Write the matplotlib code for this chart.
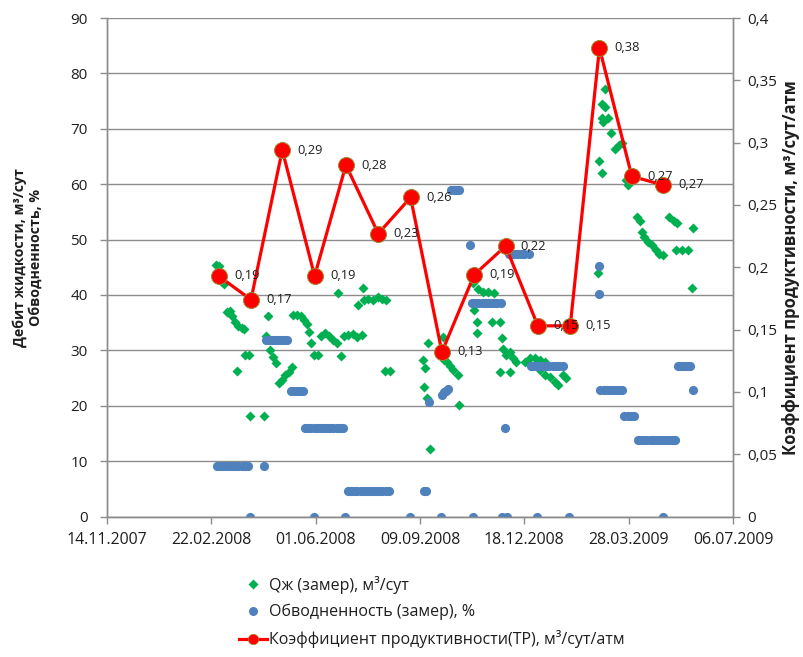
import matplotlib
matplotlib.use('Agg')
import matplotlib.pyplot as plt
from matplotlib.lines import Line2D
from matplotlib.ticker import FuncFormatter, MultipleLocator
import pandas as pd

plt.rcParams['font.family'] = ['Open Sans', 'DejaVu Sans']

START = pd.Timestamp('2007-11-14')

# Qж (замер): days since START and value, m3/сут
q_days = [104, 107, 110, 112, 115, 118, 120, 123, 126, 129, 131, 125, 132, 136, 137, 150,
          154, 152, 156, 159, 162, 165, 168, 171, 174, 177, 178, 182, 186, 189, 192, 194,
          196, 198, 202, 205, 209, 213, 217, 220, 221, 224, 227, 231, 236, 240, 244, 245,
          241, 246, 250, 255, 260, 264, 267, 266, 271, 303, 305, 308, 304, 307, 310, 322,
          323, 326, 329, 332, 336, 337, 351, 356, 360, 365, 371, 352, 355, 355, 369, 377,
          379, 380, 382, 386, 389, 392, 377, 386, 401, 405, 410, 415, 420, 415, 420, 425,
          429, 432, 437, 440, 471, 472, 474, 474, 474, 475, 477, 477, 480, 483, 487, 491,
          494, 497, 499, 508, 511, 513, 515, 519, 522, 526, 529, 533, 539, 543, 546, 545,
          551, 557, 562, 561]
q_vals = [45.4, 45.2, 42.4, 42.0, 37.0, 37.1, 36.2, 35.1, 34.4, 34.0, 33.9, 26.2, 29.2, 29.2, 18.2, 18.2,
          36.2, 32.6, 30.1, 28.8, 27.7, 24.1, 24.7, 25.6, 26.1, 27.0, 36.4, 36.4, 36.2, 35.5, 34.8, 33.3,
          31.3, 29.2, 29.2, 32.6, 33.2, 32.6, 31.9, 31.3, 40.4, 29.0, 32.6, 32.8, 33.0, 32.4, 32.8, 41.3,
          38.2, 39.1, 39.3, 39.0, 39.7, 39.3, 39.1, 26.3, 26.3, 28.3, 26.8, 31.3, 23.3, 21.4, 12.1, 32.4,
          28.3, 27.9, 27.2, 26.5, 25.6, 20.1, 42.2, 41.0, 40.5, 40.5, 40.3, 37.3, 35.1, 33.2, 35.1, 35.1,
          32.2, 30.2, 29.2, 29.7, 28.6, 27.9, 26.1, 26.1, 27.9, 28.6, 28.6, 28.3, 27.9, 26.5, 25.6, 25.2,
          24.3, 23.8, 25.6, 25.0, 44.0, 64.2, 62.1, 74.5, 72.0, 71.2, 77.2, 74.0, 72.0, 69.2, 66.4, 67.0,
          67.5, 60.8, 59.9, 54.1, 53.4, 51.4, 50.5, 49.6, 49.0, 48.1, 47.4, 47.2, 54.1, 53.4, 53.0, 48.1,
          48.1, 48.1, 52.1, 41.3]

# Обводненность (замер): days since START and value, %
w_days = [105, 108, 111, 114, 117, 120, 123, 126, 129, 132, 135, 150, 137,
          152, 155, 158, 161, 164, 167, 170, 173,
          176, 179, 182, 185, 188,
          190, 193, 196, 199, 202, 205, 208, 211, 214, 217, 220, 223, 226,
          198, 228,
          231, 234, 237, 240, 243, 246, 249, 252, 255, 258, 261, 264, 267, 270,
          304, 306, 290, 309,
          321, 323, 325, 327,
          330, 333, 335, 337, 320, 348,
          350, 353, 356, 359, 362, 365, 368, 371, 374, 378, 351,
          385, 388, 391, 394, 397, 400, 404, 381, 379, 383,
          406, 409, 412, 415, 418, 421, 424, 427, 430, 433, 437, 412, 443,
          472, 472,
          473, 476, 479, 482, 485, 488, 491, 494,
          496, 499, 502, 505,
          509, 512, 515, 518, 521, 524, 527, 530, 533, 536, 539, 542, 544, 533,
          547, 550, 553, 556, 559, 562]
w_vals = [9.1, 9.1, 9.1, 9.1, 9.1, 9.1, 9.1, 9.1, 9.1, 9.1, 9.1, 9.1, 0.0,
          31.8, 31.8, 31.8, 31.8, 31.8, 31.8, 31.8, 31.8,
          22.7, 22.7, 22.7, 22.7, 22.7,
          16.0, 16.0, 16.0, 16.0, 16.0, 16.0, 16.0, 16.0, 16.0, 16.0, 16.0, 16.0, 16.0,
          0.0, 0.0,
          4.66, 4.66, 4.66, 4.66, 4.66, 4.66, 4.66, 4.66, 4.66, 4.66, 4.66, 4.66, 4.66, 4.66,
          4.66, 4.66, 0.0, 20.7,
          22.0, 22.4, 22.7, 23.0,
          58.9, 58.9, 58.9, 58.9, 0.0, 49.0,
          38.5, 38.5, 38.5, 38.5, 38.5, 38.5, 38.5, 38.5, 38.5, 38.5, 0.0,
          47.4, 47.4, 47.4, 47.4, 47.4, 47.4, 47.4, 16.0, 0.0, 0.0,
          27.2, 27.2, 27.2, 27.2, 27.2, 27.2, 27.2, 27.2, 27.2, 27.2, 27.2, 0.0, 0.0,
          45.2, 40.1,
          22.85, 22.85, 22.85, 22.85, 22.85, 22.85, 22.85, 22.85,
          18.2, 18.2, 18.2, 18.2,
          13.8, 13.8, 13.8, 13.8, 13.8, 13.8, 13.8, 13.8, 13.8, 13.8, 13.8, 13.8, 13.8, 0.0,
          27.2, 27.2, 27.2, 27.2, 27.2, 22.85]

# Коэффициент продуктивности (ТР), м3/сут/атм
kp_dates = ['2008-02-29', '2008-03-31', '2008-04-30', '2008-05-31', '2008-06-30',
            '2008-07-31', '2008-08-31', '2008-09-30', '2008-10-31', '2008-11-30',
            '2008-12-31', '2009-01-31', '2009-02-28', '2009-03-31', '2009-04-30']
kp_vals = [0.193, 0.174, 0.294, 0.193, 0.282, 0.227, 0.256, 0.132, 0.194, 0.217,
           0.153, 0.153, 0.376, 0.273, 0.266]

x_tick_dates = ['2007-11-14', '2008-02-22', '2008-06-01', '2008-09-09',
                '2008-12-18', '2009-03-28', '2009-07-06']

q_x = [START + pd.Timedelta(days=d) for d in q_days]
w_x = [START + pd.Timedelta(days=d) for d in w_days]
kp_x = pd.to_datetime(kp_dates)
xt = pd.to_datetime(x_tick_dates)

GRID = '#8c8c8c'
TXT = '#1e1e1e'
GREEN = '#00B050'
BLUE = '#4F81BD'
RED = '#FF0000'

fig = plt.figure(figsize=(8.04, 6.57), dpi=100)
ax = fig.add_axes([107 / 804, 1 - 516.5 / 657, 626 / 804, 498.5 / 657])
ax2 = ax.twinx()

ax.plot(q_x, q_vals, linestyle='none', marker='D', ms=5.6, color=GREEN, mec='none', zorder=3)
ax.plot(w_x, w_vals, linestyle='none', marker='o', ms=6.6, color=BLUE, mec='none', zorder=4)
ax2.plot(kp_x, kp_vals, '-', color=RED, lw=2.3, marker='o', ms=11.5, mfc=RED,
         mec='#9C8B2D', mew=0.7, zorder=5)
for d, v in zip(kp_x, kp_vals):
    ax2.annotate(f'{v:.2f}'.replace('.', ','), (d, v), xytext=(11, 0),
                 textcoords='offset points', va='center', ha='left',
                 fontsize=9.3, color=TXT, zorder=6)

ax.set_xlim(xt[0], xt[-1])
ax.set_xticks(xt)
ax.set_xticklabels([d.strftime('%d.%m.%Y') for d in xt])
ax.set_ylim(0, 90)
ax.yaxis.set_major_locator(MultipleLocator(10))
ax2.set_ylim(0, 0.4)
ax2.yaxis.set_major_locator(MultipleLocator(0.05))
ax2.yaxis.set_major_formatter(FuncFormatter(
    lambda v, p: '0' if abs(v) < 1e-9 else f'{v:.2f}'.rstrip('0').replace('.', ',')))

ax.yaxis.grid(True, color=GRID, lw=1)
ax.set_axisbelow(True)

for a in (ax, ax2):
    a.spines['top'].set_visible(False)
    for s in ('left', 'bottom', 'right'):
        a.spines[s].set_color(GRID)
        a.spines[s].set_linewidth(1)
    a.tick_params(colors=GRID, labelcolor=TXT, length=5, width=1, direction='out',
                  labelsize=11)
ax.tick_params(axis='y', pad=9)
ax.tick_params(axis='x', pad=6, labelsize=11.4)
ax2.tick_params(axis='y', pad=5)

ax.set_ylabel('Дебит жидкости, м³/сут\nОбводненность, %', fontweight='bold',
              fontsize=10.2, color=TXT, linespacing=1.15)
ax.yaxis.set_label_coords(-0.103, 0.52)
ax2.set_ylabel('Коэффициент продуктивности, м³/сут/атм', fontweight='bold',
               fontsize=12, color=TXT, rotation=90)
ax2.yaxis.set_label_coords(1.079, 0.50)

handles = [
    Line2D([], [], linestyle='none', marker='D', ms=5, color=GREEN, mec='none'),
    Line2D([], [], linestyle='none', marker='o', ms=6.5, color=BLUE, mec='none'),
    Line2D([], [], color=RED, lw=2.3, marker='o', ms=7.5, mfc=RED, mec='#9C8B2D', mew=0.5),
]
labels = ['Qж (замер), м³/сут', 'Обводненность (замер), %',
          'Коэффициент продуктивности(ТР), м³/сут/атм']
fig.legend(handles, labels, loc='upper left', bbox_to_anchor=(239 / 804, 1 - 576 / 657),
           frameon=False, fontsize=11.5, handlelength=1.75, handletextpad=0.1,
           labelspacing=0.62, borderpad=0, borderaxespad=0, labelcolor=TXT)

fig.savefig('out.png', dpi=100)
